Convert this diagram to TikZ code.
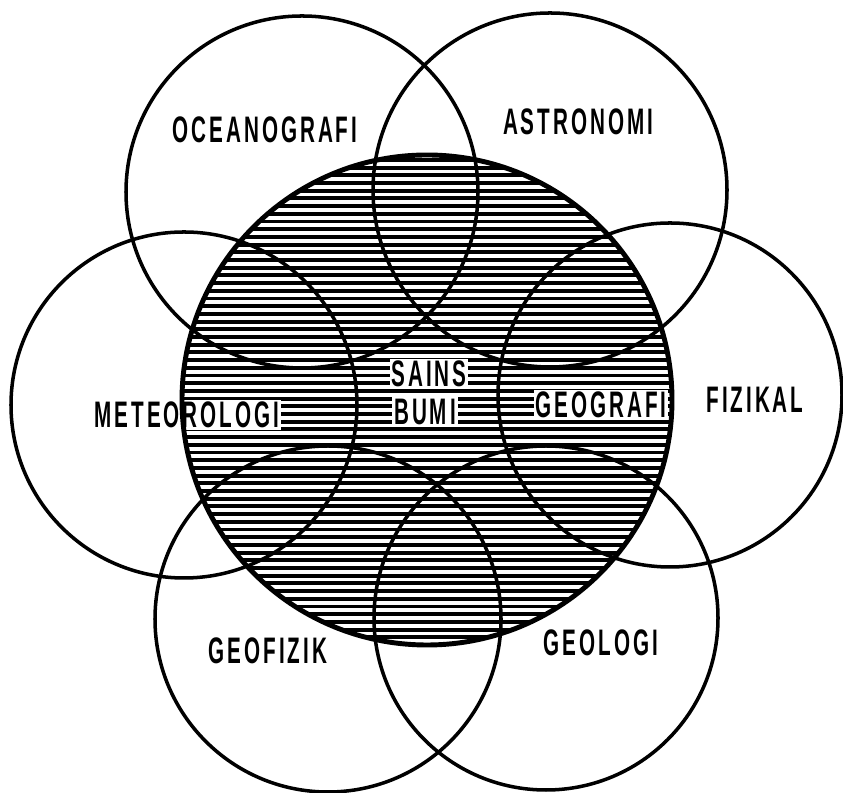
\documentclass[tikz,border=0pt]{standalone}
\usepackage{fontspec}
\setmainfont[FakeStretch=0.56,LetterSpace=8]{Liberation Sans}
\usepackage{tikz}

\begin{document}
\begin{tikzpicture}[
    lbl/.style={font=\fontsize{21}{23}\selectfont\bfseries, inner sep=1pt},
    knock/.style={lbl, fill=white},
    ring/.style={line width=2pt},
    core/.style={line width=2.8pt}]
  \useasboundingbox (0,0) rectangle (16.86,15.86);
  % hatching inside sains bumi
  \begin{scope}
    \clip (8.54,7.86) circle (4.90);
    \foreach \y in {2.96,3.114,...,12.80}
      \draw[line width=2.2pt] (3.5,\y) -- (13.5,\y);
  \end{scope}
  % labels on white
  \node[knock] (sains) at (8.58,8.38) {SAINS};
  \node[knock] (bumi) at (8.50,7.62) {BUMI};
  \node[knock] (geografi) at (12.02,7.76) {GEOGRAFI};
  \node[knock] (meteo) at (3.74,7.56) {METEOROLOGI};
  % outer labels
  \node[lbl] (ocean) at (5.30,13.26) {OCEANOGRAFI};
  \node[lbl] (astro) at (11.56,13.42) {ASTRONOMI};
  \node[lbl] (fizikal) at (15.10,7.86) {FIZIKAL};
  \node[lbl] (geofizik) at (5.36,2.84) {GEOFIZIK};
  \node[lbl] (geologi) at (12.02,3.00) {GEOLOGI};
  % circles
  \draw[core] (8.54,7.86) circle (4.90);
  \draw[ring] (6.04,12.02) circle (3.52);
  \draw[ring] (11.00,12.06) circle (3.54);
  \draw[ring] (3.68,7.76) circle (3.46);
  \draw[ring] (13.40,7.96) circle (3.44);
  \draw[ring] (6.56,3.48) circle (3.46);
  \draw[ring] (10.92,3.50) circle (3.44);
\end{tikzpicture}
\end{document}
